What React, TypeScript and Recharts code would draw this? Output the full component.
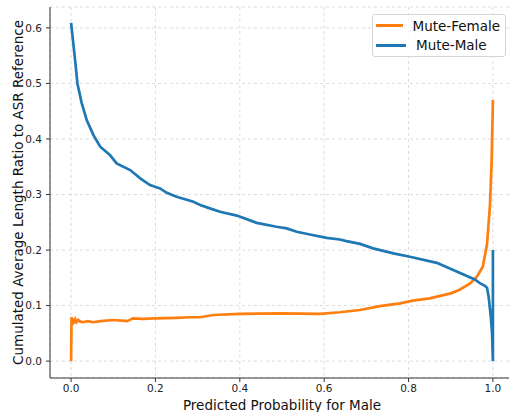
import React from 'react';
import { LineChart, Line, XAxis, YAxis, CartesianGrid, Label } from 'recharts';

// Mute-Male curve (blue)
const maleX = [0, 0.0095, 0.015, 0.025, 0.037, 0.053, 0.069, 0.092, 0.108, 0.14, 0.164, 0.187, 0.211, 0.227, 0.25, 0.29, 0.306, 0.329, 0.353, 0.393, 0.44, 0.487, 0.511, 0.535, 0.566, 0.606, 0.637, 0.653, 0.685, 0.716, 0.764, 0.803, 0.867, 0.906, 0.945, 0.957, 0.97, 0.98, 0.986, 0.99, 0.995, 0.998, 1.0, 1.0];
const maleY = [0.609, 0.542, 0.5, 0.465, 0.434, 0.407, 0.386, 0.371, 0.356, 0.344, 0.329, 0.317, 0.311, 0.303, 0.296, 0.287, 0.281, 0.275, 0.269, 0.262, 0.249, 0.242, 0.239, 0.233, 0.228, 0.222, 0.219, 0.216, 0.211, 0.203, 0.194, 0.188, 0.177, 0.164, 0.151, 0.147, 0.14, 0.136, 0.132, 0.115, 0.08, 0.05, 0.0, 0.2];

// Mute-Female curve (orange)
const femaleX = [0, 0.001, 0.003, 0.005, 0.007, 0.01, 0.013, 0.017, 0.022, 0.028, 0.04, 0.052, 0.07, 0.1, 0.12, 0.133, 0.147, 0.17, 0.2, 0.25, 0.28, 0.306, 0.337, 0.4, 0.495, 0.59, 0.637, 0.685, 0.732, 0.78, 0.81, 0.85, 0.9, 0.92, 0.946, 0.962, 0.976, 0.986, 0.993, 0.997, 1.0];
const femaleY = [0.0, 0.079, 0.065, 0.077, 0.068, 0.075, 0.07, 0.074, 0.071, 0.07, 0.072, 0.07, 0.072, 0.074, 0.073, 0.072, 0.077, 0.076, 0.077, 0.078, 0.079, 0.079, 0.083, 0.085, 0.086, 0.085, 0.088, 0.092, 0.099, 0.104, 0.109, 0.113, 0.122, 0.128, 0.14, 0.152, 0.17, 0.21, 0.28, 0.36, 0.47];

const xTicks = [0, 0.2, 0.4, 0.6, 0.8, 1.0];
const yTicks = [0, 0.1, 0.2, 0.3, 0.4, 0.5, 0.6];

const maleData = maleX.map((x, i) => ({ x, y: maleY[i] }));
const femaleData = femaleX.map((x, i) => ({ x, y: femaleY[i] }));

const series = [
    { name: 'Mute-Female', color: '#ff7f0e', data: femaleData },
    { name: 'Mute-Male', color: '#1f77b4', data: maleData },
];

const FONT = 'DejaVu Sans, sans-serif';
const tickStyle = { fontSize: 10.5, fill: '#222', fontFamily: FONT };

const App: React.FC = () => {
    return (
        <div style={{ position: 'absolute', left: 0, top: 0, width: 509, height: 412, overflow: 'hidden', background: '#fff' }}>
            <LineChart width={530} height={412} margin={{ top: 7, right: 16, left: 0, bottom: 0 }}>
                <CartesianGrid stroke="#dcdcdc" strokeDasharray="3 3" />
                <XAxis
                    dataKey="x" type="number" domain={[-0.05, 1.05]} ticks={xTicks} allowDataOverflow
                    tickFormatter={(v: number) => v.toFixed(1)} tick={tickStyle}
                    tickSize={4} tickMargin={3} height={34} stroke="#333"
                >
                    <Label value="Predicted Probability for Male" position="insideBottom" offset={2}
                        style={{ fontSize: 13.5, fill: '#111', fontFamily: FONT }} />
                </XAxis>
                <XAxis xAxisId="top" orientation="top" type="number" domain={[-0.05, 1.05]} height={0}
                    tick={false} tickLine={false} stroke="#333" />
                <YAxis
                    type="number" domain={[-0.0304, 0.6376]} ticks={yTicks} allowDataOverflow
                    tickFormatter={(v: number) => v.toFixed(1)} tick={tickStyle}
                    tickSize={4} tickMargin={4} width={50} stroke="#333"
                >
                    <Label value="Cumulated Average Length Ratio to ASR Reference" angle={-90} position="center" dx={-7}
                        style={{ fontSize: 13.5, fill: '#111', fontFamily: FONT, textAnchor: 'middle' }} />
                </YAxis>
                {series.map((s) => (
                    <Line key={s.name} data={s.data} dataKey="y" name={s.name} stroke={s.color} strokeWidth={2.7}
                        dot={false} isAnimationActive={false} />
                ))}
            </LineChart>
            {/* legend box, upper right like the original */}
            <div style={{
                position: 'absolute', left: 372, top: 14, width: 124, border: '1px solid #d5d5d5', borderRadius: 3,
                background: 'rgba(255,255,255,0.85)', padding: '1px 5px 1px 3px', fontFamily: FONT, fontSize: 13.5,
                color: '#111', whiteSpace: 'nowrap',
            }}>
                {series.map((s) => (
                    <div key={s.name} style={{ display: 'flex', alignItems: 'center', height: 19.5 }}>
                        <span style={{ display: 'inline-block', width: 30, height: 2.7, background: s.color, marginRight: 10 }} />
                        <span>{s.name}</span>
                    </div>
                ))}
            </div>
        </div>
    );
};

export default App;
